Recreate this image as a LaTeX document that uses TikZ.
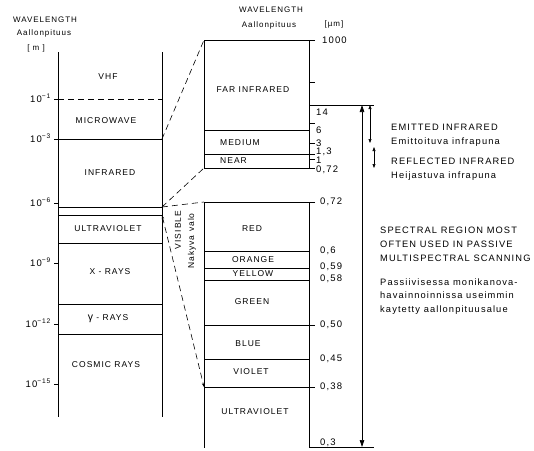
\documentclass[tikz,border=0pt]{standalone}
\usepackage{fontspec}
\setmainfont[LetterSpace=12]{Liberation Sans}
\usepackage{tikz}
\usetikzlibrary{arrows.meta, positioning, calc}

\begin{document}
\begin{tikzpicture}[
    x=1pt, y=-1pt,
    every node/.style={inner sep=0pt, font=\fontsize{8}{9}\selectfont},
    band/.style={font=\fontsize{8.5}{9}\selectfont},
    value/.style={anchor=west, font=\fontsize{9.5}{9}\selectfont},
    power/.style={anchor=base east, font=\fontsize{9.5}{9}\selectfont},
    note/.style={anchor=west, align=left, font=\fontsize{9.3}{13.8}\selectfont},
    border/.style={line width=0.9pt},
    divider/.style={line width=0.7pt},
    zoomline/.style={line width=0.6pt, dash pattern=on 6pt off 4pt},
    span/.style={{Triangle[length=7pt,width=4.5pt]}-{Triangle[length=7pt,width=4.5pt]}, line width=0.7pt},
    smallspan/.style={{Triangle[length=4pt,width=3pt]}-{Triangle[length=4pt,width=3pt]}, line width=0.6pt}
]
\useasboundingbox (0,0) rectangle (534,450);

% Headers
\node (hdrL) at (45,20) {WAVELENGTH};
\node (hdrLfi) at (44,33) {Aallonpituus};
\node (unitL) at (36,48) {[ m ]};
\node (hdrM) at (271,10) {WAVELENGTH};
\node (hdrMfi) at (269,25) {Aallonpituus};
\node (unitM) at (334,24) {[µm]};

% Whole spectrum (metres)
\draw[border] (58,52) -- (58,417);
\draw[border] (162,52) -- (162,417);
\draw[zoomline] (58,99) -- (162,99);
\foreach \y in {139,207,215,243,304,334}
    \draw[divider] (58,\y) -- (162,\y);
\foreach \y/\e in {99/1,139/3,203/6,263/9,324/12,384/15} {
    \draw[divider] (54,\y) -- (58,\y);
    \node[power] at (51,\y+3) {10\textsuperscript{−\e}};
}
\node (vhf) [band] at (108,77) {VHF};
\node (microwave) [band] at (106,121) {MICROWAVE};
\node (infrared) [band] at (110,173) {INFRARED};
\node (uvL) [band] at (108,229) {ULTRAVIOLET};
\node (xrays) [band] at (110,272) {X - RAYS};
\node (gamma) [band] at (108,319) {{\fontsize{10.5}{9}\selectfont γ} - RAYS};
\node (cosmic) [band] at (106,365) {COSMIC RAYS};

% Infrared detail (micrometres)
\draw[border] (315,40) -- (204,40) -- (204,168) -- (315,168);
\draw[border] (309,40) -- (309,168);
\draw[divider] (204,130) -- (309,130);
\draw[divider] (204,154) -- (309,154);
\foreach \y in {82,123,143,154,159}
    \draw[divider] (309,\y) -- (315,\y);
\node[value] at (322,40) {1000};
\node[value] at (316,112) {14};
\node[value] at (316,130) {6};
\node[value] at (316,143) {3};
\node[value] at (316,152) {1,3};
\node[value] at (316,160.5) {1};
\node[value] at (316,170) {0,72};
\node (far) [band] at (253,90) {FAR INFRARED};
\node (medium) [band, anchor=west] at (220,143) {MEDIUM};
\node (near) [band, anchor=west] at (220,161) {NEAR};

% Visible detail
\draw[border] (315,202) -- (204,202) -- (204,448);
\draw[border] (309,202) -- (309,448);
\foreach \y in {251,268,280,359}
    \draw[divider] (204,\y) -- (309,\y);
\foreach \y in {325,387}
    \draw[divider] (204,\y) -- (315,\y);
\node[value] at (320,202) {0,72};
\node[value] at (320,251) {0,6};
\node[value] at (320,267) {0,59};
\node[value] at (320,279) {0,58};
\node[value] at (320,325) {0,50};
\node[value] at (320,359) {0,45};
\node[value] at (320,387) {0,38};
\node[value] at (320,443) {0,3};
\node (red) [band] at (252,229) {RED};
\node (orange) [band] at (253,260) {ORANGE};
\node (yellow) [band] at (253,274) {YELLOW};
\node (green) [band] at (252,302) {GREEN};
\node (blue) [band] at (248,344) {BLUE};
\node (violet) [band] at (251,372) {VIOLET};
\node (uvM) [band] at (255,412) {ULTRAVIOLET};

% Zoom lines between the columns
\coordinate (irEdge) at (162,139);
\coordinate (visEdgeA) at (162,207);
\coordinate (visEdgeB) at (162,215);
\coordinate (irTop) at (204,40);
\coordinate (irBot) at (204,168);
\coordinate (visTop) at (204,202);
\coordinate (visBot) at (204,387);
\draw[zoomline] (irEdge) -- (irTop);
\draw[zoomline] (visEdgeA) -- (irBot);
\draw[zoomline] (visEdgeA) -- (visTop);
\draw[zoomline, {Stealth[length=4pt,width=2.5pt]}-{Stealth[length=4pt,width=2.5pt]}] (visEdgeB) -- (visBot);
\node (visible) [band, rotate=90] at (178,230) {VISIBLE};
\node (visFi) [band, rotate=90] at (192,241) {Nakyva valo};

% Ranges on the right
\draw[border] (309,105) -- (374,105);
\draw[border] (309,447) -- (374,447);
\draw[span] (362,105) -- (362,447);
\draw[smallspan] (370,105) -- (370,143);
\draw[smallspan] (374,147) -- (374,168);
\node (emitted) [note] at (391,135) {EMITTED INFRARED\\Emittoituva infrapuna};
\node (reflected) [note] at (391,169.5) {REFLECTED INFRARED\\Heijastuva infrapuna};
\node (spectral) [note] at (380,244.5) {SPECTRAL REGION MOST\\OFTEN USED IN PASSIVE\\MULTISPECTRAL SCANNING};
\node (passive) [note] at (380,296.5) {Passiivisessa monikanova-\\havainnoinnissa useimmin\\kaytetty aallonpituusalue};

\end{tikzpicture}
\end{document}
